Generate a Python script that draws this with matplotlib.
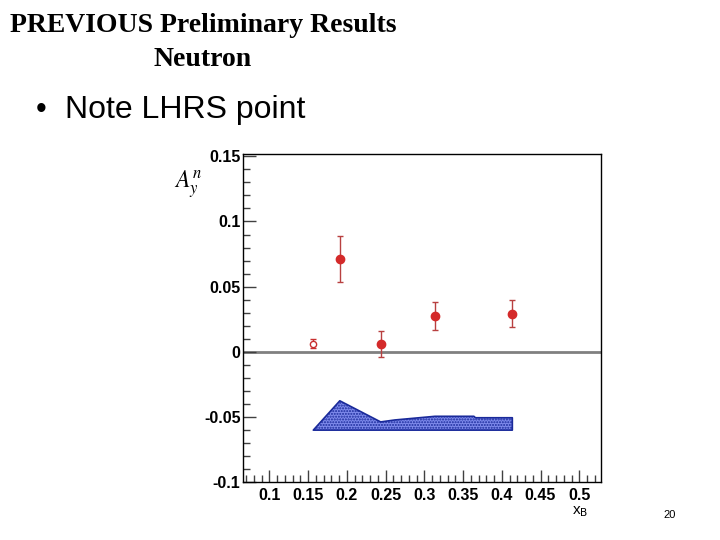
import matplotlib
matplotlib.use("Agg")
import matplotlib.pyplot as plt
from matplotlib.ticker import MultipleLocator, FixedLocator

# Data
x_filled = [0.191, 0.2437, 0.3138, 0.4136]
y_filled = [0.0715, 0.0059, 0.0278, 0.0294]
e_filled = [0.0177, 0.0101, 0.0108, 0.0103]
x_open = [0.1568]
y_open = [0.0064]
e_open = [0.0035]
band_x = [0.1568, 0.191, 0.2437, 0.262, 0.3138, 0.364, 0.366, 0.4136]
band_top = [-0.060, -0.0375, -0.0537, -0.0522, -0.0494, -0.0494, -0.0505, -0.0505]
band_bottom = -0.060
xticks = [0.1, 0.15, 0.2, 0.25, 0.3, 0.35, 0.4, 0.45, 0.5]
xticklabels = ["0.1", "0.15", "0.2", "0.25", "0.3", "0.35", "0.4", "0.45", "0.5"]
yticks = [-0.1, -0.05, 0, 0.05, 0.1, 0.15]
yticklabels = ["-0.1", "-0.05", "0", "0.05", "0.1", "0.15"]

fig = plt.figure(figsize=(7.2, 5.4), dpi=100)
ax = fig.add_axes([243.3/720, 1-482.3/540, (600.7-243.3)/720, (482.3-154.3)/540])
ax.set_xlim(0.0665, 0.5276)
ax.set_ylim(-0.1, 0.1515)

ax.axhline(0, color="#808080", lw=2, zorder=1)

ax.fill_between(band_x, band_top, band_bottom, facecolor="#7f8bec",
                edgecolor="#1a2a9a", lw=1.2, hatch="......", zorder=2)

ax.errorbar(x_filled, y_filled, yerr=e_filled, fmt="o", color="#d42a2a",
            ecolor="#b84040", elinewidth=1, capsize=2.5, capthick=1,
            markersize=6, zorder=3)
ax.errorbar(x_open, y_open, yerr=e_open, fmt="o", mfc="white", mec="#c83030",
            color="#c83030", ecolor="#c83030", elinewidth=1, capsize=2.5,
            capthick=1, markersize=4.5, mew=1, zorder=3)

ax.xaxis.set_major_locator(FixedLocator(xticks))
ax.set_xticklabels(xticklabels)
ax.xaxis.set_minor_locator(MultipleLocator(0.01))
ax.yaxis.set_major_locator(FixedLocator(yticks))
ax.set_yticklabels(yticklabels)
ax.yaxis.set_minor_locator(MultipleLocator(0.01))

ax.tick_params(axis="both", which="both", direction="in", top=False, right=False,
               color="#404040")
ax.tick_params(axis="both", which="major", length=9, width=1)
ax.tick_params(axis="both", which="minor", length=5, width=1)
ax.tick_params(axis="x", which="major", pad=4)
ax.tick_params(axis="y", which="major", pad=2)
for lbl in ax.get_xticklabels() + ax.get_yticklabels():
    lbl.set_fontfamily("Liberation Sans")
    lbl.set_fontweight("bold")
    lbl.set_fontsize(11.5)
for sp in ax.spines.values():
    sp.set_linewidth(1)
    sp.set_color("black")

fig.text(188/720, 1-185/540, r"$A_y^n$", fontsize=17, ha="center", va="center",
         math_fontfamily="stix")
fig.text(580/720, 1-512/540, r"x$_{\mathrm{B}}$", fontsize=11, ha="center", va="center",
         family="Liberation Sans")

fig.text(203/720, 1-25/540, "PREVIOUS Preliminary Results", family="Liberation Serif",
         fontweight="bold", fontsize=20, ha="center", va="center")
fig.text(203/720, 1-59/540, "Neutron", family="Liberation Serif",
         fontweight="bold", fontsize=20, ha="center", va="center")
fig.text(36/720, 1-110/540, "\u2022", family="Liberation Sans", fontsize=22,
         ha="left", va="center")
fig.text(65/720, 1-110/540, "Note LHRS point", family="Liberation Sans", fontsize=23,
         ha="left", va="center")
fig.text(670/720, 1-515/540, "20", family="Liberation Sans", fontsize=8,
         ha="center", va="center")

fig.savefig("out.png", dpi=100)
